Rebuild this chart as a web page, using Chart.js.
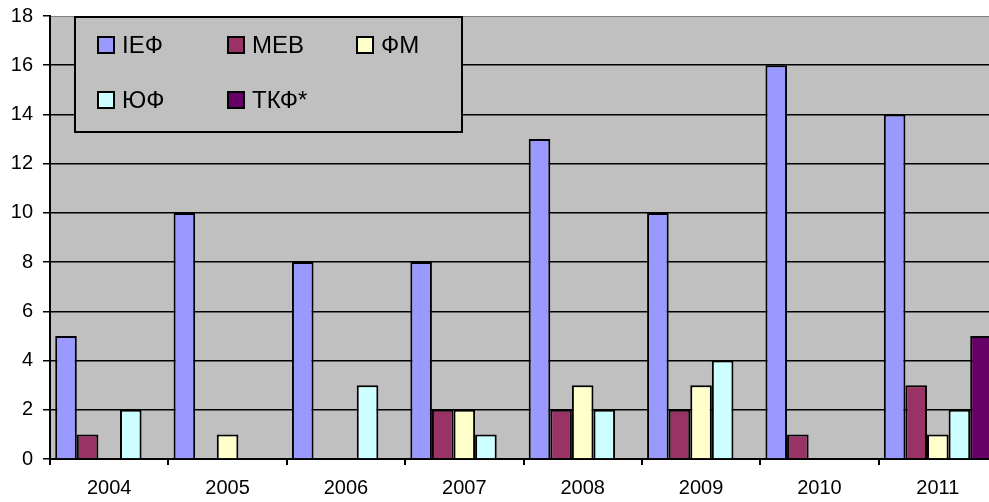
<!DOCTYPE html>
<html>
<head>
<meta charset="utf-8">
<script src="https://cdn.jsdelivr.net/npm/chart.js@4.4.1/dist/chart.umd.min.js"></script>
<style>
  html, body { margin: 0; padding: 0; background: #fff; overflow: hidden; }
  #wrap { width: 1000px; height: 502px; }
</style>
</head>
<body>
<div id="wrap"><canvas id="chart"></canvas></div>
<script>
// chart data
const years = ["2004", "2005", "2006", "2007", "2008", "2009", "2010", "2011"];
const ief = [5, 10, 8, 8, 13, 10, 16, 14];
const meb = [1, 0, 0, 2, 2, 2, 1, 3];
const fm = [0, 1, 0, 2, 3, 3, 0, 1];
const yuf = [2, 0, 3, 1, 2, 4, 0, 2];
const tkf = [0, 0, 0, 0, 0, 0, 0, 5];
const seriesNames = ["IEФ", "MEB", "ФМ", "ЮФ", "ТКФ*"];
const seriesColors = ["#9999FF", "#993366", "#FFFFCC", "#CCFFFF", "#660066"];

const FONT = "'Liberation Sans', Arial, sans-serif";

// grey plot area background
const plotBg = {
  id: "plotBg",
  beforeDraw(chart) {
    const a = chart.chartArea;
    const ctx = chart.ctx;
    ctx.save();
    ctx.fillStyle = "#C0C0C0";
    ctx.fillRect(a.left, a.top, a.right - a.left, a.bottom - a.top);
    ctx.strokeStyle = "#808080";
    ctx.lineWidth = 1;
    ctx.beginPath();
    ctx.moveTo(a.left, a.top + 0.5);
    ctx.lineTo(a.right, a.top + 0.5);
    ctx.stroke();
    ctx.restore();
  }
};

// legend box floating inside the plot
const boxLegend = {
  id: "boxLegend",
  afterDraw(chart) {
    const ctx = chart.ctx;
    ctx.save();
    ctx.fillStyle = "#C0C0C0";
    ctx.fillRect(75, 17, 387, 115);
    ctx.strokeStyle = "#000";
    ctx.lineWidth = 2;
    ctx.strokeRect(75, 17, 387, 115);
    const cols = [98, 228, 357];
    const rows = [45, 100];
    ctx.font = "24px " + FONT;
    ctx.textBaseline = "middle";
    ctx.textAlign = "left";
    chart.data.datasets.forEach(function (ds, i) {
      const x = cols[i % 3];
      const y = rows[Math.floor(i / 3)];
      ctx.fillStyle = ds.backgroundColor;
      ctx.fillRect(x, y - 8, 16, 16);
      ctx.lineWidth = 2;
      ctx.strokeStyle = "#000";
      ctx.strokeRect(x, y - 8, 16, 16);
      ctx.fillStyle = "#000";
      ctx.fillText(ds.label, x + 24, y + 1);
    });
    ctx.restore();
  }
};

const allSeries = [ief, meb, fm, yuf, tkf];

const ctx = document.getElementById("chart").getContext("2d");
const chart = new Chart(ctx, {
  type: "bar",
  data: {
    labels: years,
    datasets: allSeries.map(function (vals, i) {
      return {
        label: seriesNames[i],
        data: vals,
        backgroundColor: seriesColors[i],
        borderColor: "#000",
        borderWidth: 2,
        categoryPercentage: 0.912,
        barPercentage: 1
      };
    })
  },
  options: {
    responsive: true,
    maintainAspectRatio: false,
    animation: false,
    layout: { padding: { top: 16, right: 3, left: 0, bottom: 0 } },
    plugins: {
      legend: { display: false },
      tooltip: { enabled: false }
    },
    scales: {
      x: {
        offset: true,
        grid: {
          drawOnChartArea: false,
          color: "#000",
          lineWidth: 2,
          tickLength: 6
        },
        border: { color: "#000", width: 2 },
        ticks: {
          color: "#000",
          font: { family: FONT, size: 20 },
          padding: 11,
          maxRotation: 0
        },
        afterFit(scale) {
          scale.height = 43;
          scale.paddingLeft = 0;
          scale.paddingRight = 0;
        }
      },
      y: {
        min: 0,
        max: 18,
        grid: {
          color: function (c) { return c.tick && c.tick.value === 18 ? "rgba(0,0,0,0)" : "#000"; },
          tickColor: "#000",
          lineWidth: 1.5,
          tickLength: 7
        },
        border: { color: "#000", width: 2 },
        ticks: {
          stepSize: 2,
          color: "#000",
          font: { family: FONT, size: 20 },
          padding: 10
        },
        afterFit(scale) {
          scale.width = 50;
          scale.paddingTop = 0;
          scale.paddingBottom = 0;
        }
      }
    }
  },
  plugins: [plotBg, boxLegend]
});
</script>
</body>
</html>
